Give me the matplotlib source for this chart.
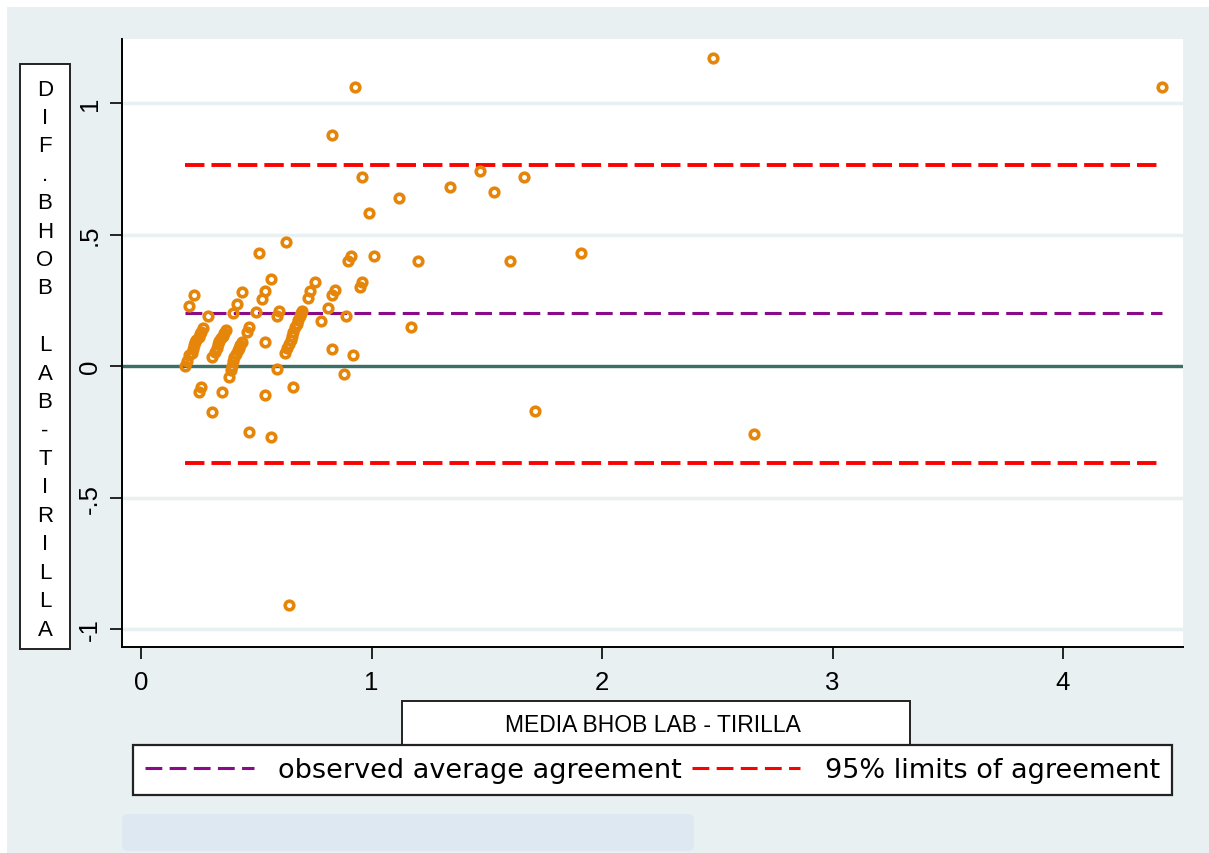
import matplotlib
matplotlib.use("Agg")
import matplotlib.pyplot as plt
from matplotlib.patches import Rectangle, FancyBboxPatch
from matplotlib.lines import Line2D

# mean of the two methods (x) and their difference (y)
avg_vals = [
    2.48, 4.43, 0.93, 0.83, 0.96, 1.34, 1.47, 1.53, 1.66, 1.12, 0.99,
    1.01, 1.20, 1.60, 1.91, 1.17, 1.71, 2.66, 0.64,
    0.63, 0.51, 0.91, 0.90, 0.565, 0.755, 0.96, 0.95, 0.23, 0.44, 0.54,
    0.525, 0.84, 0.83, 0.735, 0.725, 0.21, 0.415, 0.81, 0.40, 0.50, 0.60,
    0.59, 0.70, 0.29, 0.89, 0.78, 0.47, 0.46,
    0.19, 0.20, 0.21, 0.22, 0.225, 0.23, 0.235, 0.24, 0.25, 0.255, 0.26, 0.27,
    0.31, 0.32, 0.33, 0.335, 0.34, 0.345, 0.355, 0.36, 0.37,
    0.38, 0.39, 0.395, 0.40, 0.405, 0.41, 0.42, 0.425, 0.43, 0.44,
    0.625, 0.635, 0.64, 0.65, 0.655, 0.66, 0.67, 0.675, 0.68, 0.69, 0.695,
    0.54, 0.59, 0.83, 0.92, 0.88, 0.26, 0.25, 0.35, 0.66, 0.54, 0.31,
    0.47, 0.565,
]
dif_vals = [
    1.17, 1.06, 1.06, 0.88, 0.72, 0.68, 0.74, 0.66, 0.72, 0.64, 0.58,
    0.42, 0.40, 0.40, 0.43, 0.15, -0.17, -0.26, -0.91,
    0.47, 0.43, 0.42, 0.40, 0.33, 0.32, 0.32, 0.30, 0.27, 0.28, 0.285,
    0.255, 0.29, 0.27, 0.285, 0.26, 0.23, 0.235, 0.22, 0.20, 0.205, 0.21,
    0.19, 0.21, 0.19, 0.19, 0.17, 0.15, 0.13,
    0.0, 0.02, 0.04, 0.05, 0.065, 0.08, 0.09, 0.10, 0.11, 0.12, 0.13, 0.145,
    0.035, 0.055, 0.07, 0.085, 0.095, 0.105, 0.115, 0.125, 0.135,
    -0.04, -0.015, 0.0, 0.02, 0.035, 0.045, 0.06, 0.07, 0.08, 0.09,
    0.05, 0.07, 0.085, 0.10, 0.115, 0.13, 0.15, 0.16, 0.175, 0.19, 0.20,
    0.09, -0.01, 0.065, 0.04, -0.03, -0.08, -0.10, -0.10, -0.08, -0.11, -0.175,
    -0.25, -0.27,
]

mean_diff = 0.2
lower_loa = -0.37
upper_loa = 0.765

x_ticks = [0, 1, 2, 3, 4]
y_ticks = [-1, -0.5, 0, 0.5, 1]
y_ticklabels = ["-1", "-.5", "0", ".5", "1"]

y_title = "DIF.BHOB LAB-TIRILLA"
x_title = "MEDIA BHOB LAB - TIRILLA"
legend_labels = ["observed average agreement", "95% limits of agreement"]

W, H = 1209, 854
BG = "#e9f0f2"
ARIAL = "Liberation Sans"


def fx(px):
    return px / W


def fy(py):
    return 1 - py / H


fig = plt.figure(figsize=(W / 100, H / 100), dpi=100, facecolor="white")
fig.add_artist(Rectangle((fx(7), 0), 1, fy(8), transform=fig.transFigure,
                         facecolor=BG, edgecolor="none", zorder=0))
fig.add_artist(FancyBboxPatch((fx(122), fy(852)), fx(572), (852 - 815) / H,
                              boxstyle="round,pad=0,rounding_size=0.006",
                              transform=fig.transFigure,
                              facecolor="#dde8f3", edgecolor="none", zorder=0))

ax = fig.add_axes([fx(122), fy(648), fx(1183 - 122), (648 - 40) / H])
ax.set_facecolor("white")

ax.set_xlim(-19 / 230.5, (1183 - 141) / 230.5)
ax.set_ylim(-281 / 263, 327 / 263)

ax.yaxis.grid(True, color=BG, lw=2.5)
ax.set_axisbelow(True)

ax.axhline(0, color="#3a7066", lw=2.4, zorder=2)

x_span = [min(avg_vals), max(avg_vals)]
ax.plot(x_span, [mean_diff, mean_diff], color="#8a0a8a",
        lw=2.2, linestyle=(0, (5.5, 2.4)), zorder=3)
ax.plot(x_span, [upper_loa, upper_loa], color="#ff0000",
        lw=2.8, linestyle=(0, (5, 1.8)), zorder=3)
ax.plot(x_span, [lower_loa, lower_loa], color="#ff0000",
        lw=2.8, linestyle=(0, (5, 1.8)), zorder=3)

ax.plot(avg_vals, dif_vals, "o", mfc="none", mec="#e5860a", ms=6.2, mew=2.6,
        zorder=4)

for s in ["top", "right"]:
    ax.spines[s].set_visible(False)
for s in ["left", "bottom"]:
    ax.spines[s].set_linewidth(1.4)
    ax.spines[s].set_color("black")

ax.set_xticks(x_ticks)
ax.set_xticklabels([str(v) for v in x_ticks], fontsize=18.5, family=ARIAL)
ax.set_yticks(y_ticks)
ax.set_yticklabels(y_ticklabels, fontsize=18.5, family=ARIAL, rotation=90,
                   va="center")
ax.tick_params(axis="both", length=8.6, width=1.2, color="black")
ax.tick_params(axis="x", pad=8)
ax.tick_params(axis="y", pad=6)

# y title box with stacked letters
fig.add_artist(Rectangle((fx(20), fy(650)), fx(50), (650 - 65) / H,
                         transform=fig.transFigure, facecolor="white",
                         edgecolor="#222222", lw=1.4, zorder=5))
step = (630 - 90) / (len(y_title) - 1)
for i, ch in enumerate(y_title):
    fig.text(fx(45), fy(90 + i * step), ch, ha="center", va="center",
             fontsize=16, family=ARIAL, zorder=6)

# x title box
fig.add_artist(Rectangle((fx(402), fy(746)), fx(508), 44 / H,
                         transform=fig.transFigure, facecolor="white",
                         edgecolor="#222222", lw=1.4, zorder=5))
fig.text(fx(653), fy(726), x_title, ha="center", va="center", fontsize=16.5,
         family=ARIAL, zorder=6)

handles = [Line2D([], [], color="#8a0a8a", lw=2.2, linestyle=(0, (5.5, 2.4))),
           Line2D([], [], color="#ff0000", lw=2.2, linestyle=(0, (5.5, 2.4)))]
leg = fig.legend(handles, legend_labels, loc="upper left",
                 bbox_to_anchor=(fx(133), fy(803), fx(1039), 57 / H),
                 mode="expand", ncol=2, fontsize=19.5, frameon=True,
                 fancybox=False, edgecolor="#222222", facecolor="white",
                 framealpha=1, handlelength=4, handletextpad=0.9,
                 borderpad=0.45, borderaxespad=0)
leg.get_frame().set_linewidth(1.6)
leg.set_zorder(7)

fig.savefig("out.png", dpi=100, facecolor=fig.get_facecolor())
